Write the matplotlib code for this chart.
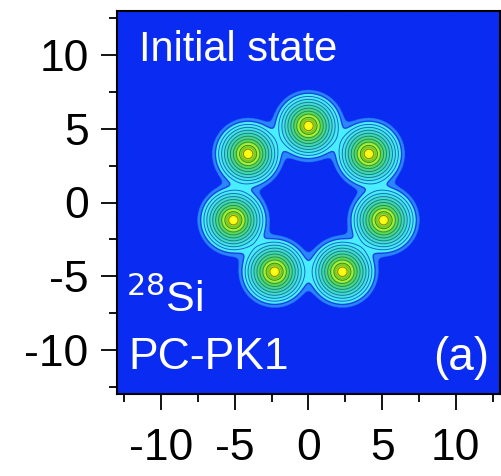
import numpy as np
import matplotlib
matplotlib.use("Agg")
import matplotlib.pyplot as plt
from matplotlib.colors import LinearSegmentedColormap

plt.rcParams["font.family"] = ["Liberation Sans", "DejaVu Sans"]
plt.rcParams["axes.unicode_minus"] = False

# ring of seven density peaks
site_x = [0.0, 4.1, 5.1, 2.3, -2.3, -5.1, -4.1]
site_y = [5.2, 3.3, -1.2, -4.7, -4.7, -1.2, 3.3]

# contour levels in "effective radius" units around each peak
ring_levels = [0.32, 0.58, 0.8, 1.0, 1.2, 1.4, 1.6, 1.8, 2.0]
outer_level = 2.22
edge_level = 2.45

ticks = [-10, -5, 0, 5, 10]
lim = 13

# ─────────────────────────────────────────────
#  density field
# ─────────────────────────────────────────────
a = 0.3
xs = np.linspace(-lim, lim, 700)
X, Y = np.meshgrid(xs, xs)
z = np.zeros_like(X)
for sx, sy in zip(site_x, site_y):
    z += np.exp(-np.hypot(X - sx, Y - sy) / a)
u = -a * np.log(z)

bg = "#0a2cf2"
umax = 2.6
stops = [
    (0.00, "#ffff30"),
    (0.30, "#f8f800"),
    (0.45, "#60c030"),
    (0.62, "#c8f828"),
    (0.85, "#60d850"),
    (1.30, "#40d8b0"),
    (1.70, "#44e4e4"),
    (2.00, "#48f0ff"),
    (outer_level - 0.01, "#4cecff"),
    (outer_level + 0.01, "#2a86ff"),
    (edge_level - 0.01, "#2a86ff"),
    (edge_level + 0.01, bg),
    (2.60, bg),
]
cmap = LinearSegmentedColormap.from_list("dens", [(p / umax, c) for p, c in stops])

fig = plt.figure(figsize=(5.02, 4.76), dpi=100)
ax = fig.add_axes([117 / 502, 1 - 394 / 476, 383 / 502, 383 / 476])

ax.imshow(np.clip(u, 0, umax), extent=[-lim, lim, -lim, lim], origin="lower",
          cmap=cmap, vmin=0, vmax=umax, interpolation="bilinear")

line_cols = ["#7a8a10", "#2e9020", "#2a9840", "#209060", "#1a8878",
             "#1a8090", "#1a78a8", "#1a70b8", "#1a68c8"]
ax.contour(X, Y, u, levels=ring_levels, colors=line_cols, linewidths=0.7)
ax.contour(X, Y, u, levels=[outer_level], colors="#1846e0", linewidths=1.0)

ax.set_xlim(-lim, lim)
ax.set_ylim(-lim, lim)
ax.set_xticks(ticks)
ax.set_yticks(ticks)
ax.set_xticks(np.arange(-12.5, 13, 2.5), minor=True)
ax.set_yticks(np.arange(-12.5, 13, 2.5), minor=True)
ax.tick_params(which="major", length=11.5, width=1.3, labelsize=32)
ax.tick_params(axis="x", which="major", pad=13)
ax.tick_params(axis="y", which="major", pad=9)
ax.tick_params(which="minor", length=6, width=1.3)
for sp in ax.spines.values():
    sp.set_linewidth(1.5)

ax.text(-11.5, 9.6, "Initial state", color="white", fontsize=30)
ax.text(-12.4, -7.4, r"$^{28}$Si", color="white", fontsize=31)
ax.text(-12.2, -11.3, "PC-PK1", color="white", fontsize=32)
ax.text(12.3, -11.4, "(a)", color="white", fontsize=33, ha="right")

fig.savefig("out.png", dpi=100)
